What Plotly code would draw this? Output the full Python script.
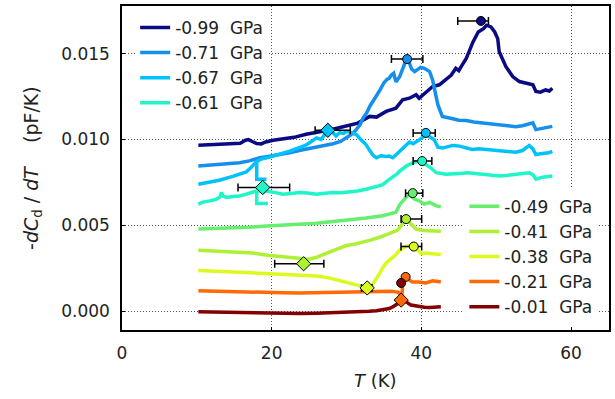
import plotly.graph_objects as go

SCALE = 1e-3  # values below are in units of 1e-3 pF/K

# ---------------- curves (T in K, values in 1e-3 pF/K) ----------------
T_099 = [10.2, 11.5, 13.0, 14.5, 15.8, 16.5, 16.9, 17.4, 18.0, 18.6, 19.2, 20.2, 21.5, 23.0, 24.6,
         26.0, 27.7, 29.0, 30.4, 31.5, 32.3, 33.1, 34.0, 35.3, 36.6, 37.5, 38.4, 39.3, 39.7, 40.5,
         41.5, 42.4, 43.3, 44.0, 44.6, 45.0, 45.4, 46.0, 46.9, 47.6, 48.3, 48.7, 49.3, 49.8, 50.2,
         50.4, 51.3, 52.2, 53.1, 54.0, 54.9, 55.3, 55.9, 56.6, 57.1, 57.5]
Y_099 = [9.66, 9.68, 9.70, 9.72, 9.78, 9.95, 9.99, 9.88, 9.76, 9.74, 9.85, 9.95, 10.02, 10.12, 10.30,
         10.40, 10.55, 10.68, 10.86, 10.95, 11.15, 11.34, 11.30, 11.63, 11.82, 12.31, 12.40, 12.60, 12.40, 12.70,
         13.08, 13.18, 13.47, 13.75, 14.14, 14.00, 14.30, 14.72, 15.68, 16.26, 16.45, 16.65, 16.55, 16.26, 15.87,
         15.10, 14.24, 13.66, 13.37, 13.27, 13.18, 12.79, 12.75, 12.88, 12.82, 12.98]

T_071 = [10.2, 12.0, 14.0, 15.7, 17.0, 18.4, 19.5, 21.0, 22.4, 24.0, 25.5, 26.8, 28.2, 29.2, 30.0,
         30.7, 31.3, 31.8, 32.2, 32.7, 33.1, 33.6, 34.0, 34.5, 35.0, 35.4, 35.7, 36.0, 36.3, 36.6,
         37.1, 37.5, 37.96, 38.4, 38.7, 39.1, 39.5, 39.9, 40.4, 40.8, 41.1, 41.5, 41.8, 42.2, 42.8,
         43.5, 44.2, 45.0, 46.0, 47.0, 48.2, 49.3, 50.4, 51.5, 52.6, 53.5, 54.4, 54.9, 55.3, 56.0,
         56.6, 57.5]
Y_071 = [8.45, 8.50, 8.56, 8.64, 8.75, 8.93, 9.00, 9.10, 9.22, 9.38, 9.50, 9.61, 9.75, 9.88, 10.09,
         10.30, 10.57, 10.85, 11.24, 11.55, 11.92, 12.25, 12.60, 12.90, 13.30, 13.50, 13.56, 13.75, 13.85, 13.35,
         13.65, 14.05, 14.62, 14.45, 14.10, 13.95, 14.05, 14.20, 14.14, 14.00, 13.95, 13.46, 12.80, 12.02, 11.34,
         11.25, 11.20, 11.12, 11.10, 11.02, 10.96, 10.86, 10.80, 10.76, 10.74, 10.80, 10.92, 10.96, 10.57, 10.62,
         10.67, 10.76]

T_067 = [10.2, 11.5, 13.0, 14.8, 16.0, 16.6, 17.2, 17.7, 18.0, 18.0, 19.3, None,
         18.0, 18.6, 19.5, 20.5, 21.5, 22.4, 23.5, 24.5, 25.2, 26.0, 26.6, 27.2, 27.7, 28.2, 28.6,
         29.1, 29.6, 30.0, 30.6, 31.3, 31.9, 32.6, 33.1, 33.6, 34.0, 34.6, 35.3, 35.7, 36.2, 36.7,
         37.1, 37.6, 38.4, 38.9, 39.3, 39.8, 40.4, 40.8, 41.1, 41.7, 42.2, 42.8, 43.3, 44.2, 45.1,
         46.0, 46.8, 47.7, 48.6, 49.5, 50.4, 51.5, 52.6, 53.5, 54.4, 54.9, 55.3, 56.2, 57.0, 57.5]
Y_067 = [7.39, 7.48, 7.62, 7.85, 8.00, 8.10, 8.35, 8.55, 8.72, 7.68, 7.68, None,
         8.72, 8.85, 8.95, 9.05, 9.20, 9.32, 9.50, 9.65, 9.85, 10.09, 10.00, 10.35, 10.47, 10.38, 10.20,
         10.40, 10.35, 10.47, 10.40, 10.28, 10.00, 9.70, 9.35, 9.05, 8.93, 9.05, 9.00, 9.03, 8.93, 9.15,
         9.35, 9.55, 9.85, 9.75, 9.85, 10.00, 10.19, 10.25, 10.15, 9.99, 9.55, 9.50, 9.55, 9.65, 9.61,
         9.50, 9.41, 9.45, 9.41, 9.40, 9.32, 9.30, 9.25, 9.35, 9.65, 9.45, 9.12, 9.18, 9.22, 9.30]

T_061 = [10.2, 10.8, 11.7, 12.5, 13.1, 13.3, 13.5, 14.0, 14.8, 15.7, 16.5, 17.3, 18.0, 18.0, 19.5, None,
         18.0, 19.3, 20.5, 21.5, 22.6, 23.7, 24.8, 26.0, 27.1, 28.2, 29.3, 30.4, 31.5, 32.6, 33.7,
         34.8, 35.5, 36.2, 36.7, 37.1, 37.6, 38.0, 38.4, 38.8, 39.3, 39.7, 40.0, 40.5, 41.1, 41.6,
         42.0, 43.3, 44.2, 45.1, 46.2, 47.3, 48.4, 49.5, 50.4, 51.3, 52.2, 53.1, 54.0, 54.4, 54.9,
         55.3, 56.2, 57.5]
Y_061 = [6.23, 6.35, 6.42, 6.50, 6.65, 6.91, 6.70, 6.62, 6.68, 6.71, 6.80, 6.90, 7.00, 6.27, 6.27, None,
         7.00, 7.00, 6.90, 6.81, 6.85, 6.91, 6.88, 6.81, 6.86, 6.91, 6.90, 6.93, 7.00, 7.10, 7.20,
         7.35, 7.60, 7.80, 7.97, 8.15, 8.35, 8.45, 8.55, 8.64, 8.70, 8.74, 8.65, 8.55, 8.40, 8.22,
         8.06, 7.97, 7.97, 8.02, 8.06, 8.00, 7.97, 7.92, 7.87, 7.90, 7.95, 7.97, 8.02, 8.06, 7.95,
         7.68, 7.80, 7.87]

T_049 = [10.2, 12.5, 14.8, 17.0, 19.3, 21.5, 23.7, 26.0, 28.2, 30.4, 32.6, 34.8, 35.8, 36.6, 37.1,
         37.9, 38.3, 38.6, 39.1, 39.7, 40.4, 41.1, 41.6, 42.0, 42.6]
Y_049 = [4.78, 4.80, 4.84, 4.88, 4.95, 5.00, 5.07, 5.12, 5.22, 5.30, 5.42, 5.55, 5.65, 5.75, 6.20,
         6.65, 6.80, 6.71, 6.52, 6.42, 6.23, 6.33, 6.20, 6.13, 6.08]

T_041 = [10.2, 12.5, 14.8, 15.7, 17.5, 19.7, 21.5, 23.0, 24.2, 25.0, 25.9, 26.8, 27.7, 28.8, 30.0,
         31.1, 32.2, 33.3, 34.4, 35.3, 36.2, 36.8, 37.3, 37.7, 38.0, 38.4, 38.9, 39.3, 40.2, 41.0,
         41.8, 42.6]
Y_041 = [3.55, 3.50, 3.45, 3.43, 3.38, 3.24, 3.15, 3.10, 3.05, 3.02, 3.12, 3.25, 3.43, 3.62, 3.82,
         3.90, 4.01, 4.15, 4.30, 4.45, 4.59, 4.70, 4.98, 5.25, 5.40, 5.17, 4.95, 4.78, 4.69, 4.68,
         4.65, 4.65]

T_038 = [10.2, 12.5, 14.8, 17.0, 19.3, 21.5, 23.7, 26.0, 27.5, 28.8, 30.0, 31.0, 31.7, 32.3, 32.8,
         33.3, 33.8, 34.3, 34.8, 35.3, 35.8, 36.4, 37.1, 37.9, 38.6, 39.3, 40.0, 40.6, 41.5, 42.6]
Y_038 = [2.37, 2.33, 2.28, 2.25, 2.20, 2.15, 2.12, 2.05, 1.95, 1.82, 1.70, 1.58, 1.50, 1.42, 1.37,
         1.45, 1.75, 2.10, 2.50, 2.80, 3.00, 3.20, 3.55, 3.76, 3.82, 3.63, 3.34, 3.38, 3.34, 3.30]

T_021 = [10.2, 12.5, 14.8, 17.0, 19.3, 21.5, 23.7, 26.0, 28.2, 30.4, 32.6, 34.8, 36.0, 36.6, 36.9,
         37.2, 37.35, 37.45, 37.5, 37.96, 38.4, 38.8, 39.7, 40.6, 41.5, 42.0, 42.6]
Y_021 = [1.18, 1.15, 1.12, 1.10, 1.06, 1.07, 1.06, 1.08, 1.10, 1.12, 1.18, 1.18, 1.16, 1.12, 1.10,
         0.95, 0.70, 1.20, 1.85, 1.99, 1.80, 1.70, 1.70, 1.64, 1.76, 1.74, 1.70]

T_001 = [10.2, 12.5, 14.8, 17.0, 19.3, 21.5, 23.7, 26.0, 28.2, 30.4, 31.7, 33.0, 34.0, 35.0, 35.7,
         36.2, 36.6, 37.0, 37.3, 37.96, 38.6, 39.2, 39.7, 40.4, 41.1, 41.8, 42.6]
Y_001 = [-0.04, -0.06, -0.10, -0.12, -0.14, -0.13, -0.14, -0.12, -0.10, -0.07, -0.04, -0.01, 0.02, 0.08, 0.15,
         0.25, 0.35, 0.48, 0.60, 0.54, 0.35, 0.30, 0.25, 0.22, 0.21, 0.23, 0.25]

SERIES_NAMES = ["-0.99 GPa", "-0.71 GPa", "-0.67 GPa", "-0.61 GPa",
                "-0.49 GPa", "-0.41 GPa", "-0.38 GPa", "-0.21 GPa", "-0.01 GPa"]
SERIES_T = [T_099, T_071, T_067, T_061, T_049, T_041, T_038, T_021, T_001]
SERIES_Y = [Y_099, Y_071, Y_067, Y_061, Y_049, Y_041, Y_038, Y_021, Y_001]
SERIES_COLORS = ["#0a0a82", "#1490ec", "#00c2fa", "#1ef5c8",
                 "#66ee6e", "#aef032", "#dcfa1e", "#ff6a05", "#820000"]
SERIES_LEGEND = ["legend"] * 4 + ["legend2"] * 5

# ---------------- transition markers with error bars ----------------
MK_SERIES = [0, 1, 2, 2, 3, 3, 4, 5, 5, 6, 6]
MK_T = [47.96, 38.1, 40.6, 27.5, 40.1, 18.8, 38.84, 37.96, 24.27, 38.98, 32.76]
MK_Y = [16.9, 14.68, 10.38, 10.53, 8.74, 7.2, 6.87, 5.36, 2.76, 3.76, 1.35]
MK_MINUS = [3.1, 2.1, 1.7, 1.7, 1.2, 3.3, 0.95, 0.67, 3.87, 1.7, 0.76]
MK_PLUS = [1.0, 2.1, 1.25, 3.0, 1.3, 3.6, 1.35, 2.08, 2.7, 1.06, 0.64]
MK_SYMBOL = ["circle", "circle", "circle", "diamond", "circle", "diamond",
             "circle", "circle", "diamond", "circle", "diamond"]

# markers without error bars
MK2_SERIES = [7, 8, 7]
MK2_T = [37.9, 37.3, 37.3]
MK2_Y = [1.99, 1.64, 0.64]
MK2_SYMBOL = ["circle", "circle", "diamond"]

FONT = "DejaVu Sans"

fig = go.Figure()
for name, t, y, c, leg in zip(SERIES_NAMES, SERIES_T, SERIES_Y, SERIES_COLORS, SERIES_LEGEND):
    fig.add_trace(go.Scatter(
        x=t, y=[v * SCALE if v is not None else None for v in y],
        mode="lines", name=name.replace(" ", "\u00a0\u00a0"),
        line=dict(color=c, width=3.5), legend=leg, connectgaps=False))

def msize(s):
    return 11 if s == "diamond" else 9

fig.add_trace(go.Scatter(
    x=MK_T, y=[v * SCALE for v in MK_Y], mode="markers", showlegend=False,
    marker=dict(symbol=MK_SYMBOL, size=[msize(s) for s in MK_SYMBOL], opacity=1,
                color=[SERIES_COLORS[i] for i in MK_SERIES],
                line=dict(color="black", width=1)),
    error_x=dict(type="data", symmetric=False, array=MK_PLUS, arrayminus=MK_MINUS,
                 color="black", thickness=1.5, width=4)))

fig.add_trace(go.Scatter(
    x=MK2_T, y=[v * SCALE for v in MK2_Y], mode="markers", showlegend=False,
    marker=dict(symbol=MK2_SYMBOL, size=[msize(s) for s in MK2_SYMBOL], opacity=1,
                color=[SERIES_COLORS[i] for i in MK2_SERIES],
                line=dict(color="black", width=1))))

axis_common = dict(
    showgrid=True, gridcolor="#555555", griddash="1px,2px", gridwidth=1,
    showline=True, linecolor="black", linewidth=1.5, mirror=True,
    ticks="inside", ticklen=3, tickcolor="black", zeroline=False,
    tickfont=dict(family=FONT, size=17, color="#222222"), ticklabelstandoff=7)

fig.update_layout(
    width=615, height=399,
    margin=dict(l=122, r=5, t=4, b=69),
    paper_bgcolor="white", plot_bgcolor="white",
    font=dict(family=FONT, color="#222222"),
    xaxis=dict(range=[0, 65.07], tickvals=[0, 20, 40, 60], **axis_common),
    yaxis=dict(range=[-0.0011, 0.01777], tickvals=[0, 0.005, 0.010, 0.015],
               ticktext=["0.000", "0.005", "0.010", "0.015"], **axis_common),
    legend=dict(x=0.027, y=0.988, xanchor="left", yanchor="top", bgcolor="white",
                font=dict(family=FONT, size=17, color="#222222"), tracegroupgap=0),
    legend2=dict(x=0.703, y=0.436, xanchor="left", yanchor="top", bgcolor="white",
                 font=dict(family=FONT, size=17, color="#222222"), tracegroupgap=0),
    annotations=[
        dict(text="<i>T</i> (K)", x=0.5205, y=-0.156, xref="paper", yref="paper",
             xanchor="center", yanchor="middle", showarrow=False,
             font=dict(family=FONT, size=18, color="#222222")),
        dict(text="-<i>dC</i><sub>d</sub> / <i>dT</i>\u00a0\u00a0\u00a0\u00a0(pF/K)",
             x=-0.185, y=0.5, xref="paper", yref="paper", textangle=-90,
             xanchor="center", yanchor="middle", showarrow=False,
             font=dict(family=FONT, size=19, color="#222222")),
    ],
)

fig.write_html("out.html")
